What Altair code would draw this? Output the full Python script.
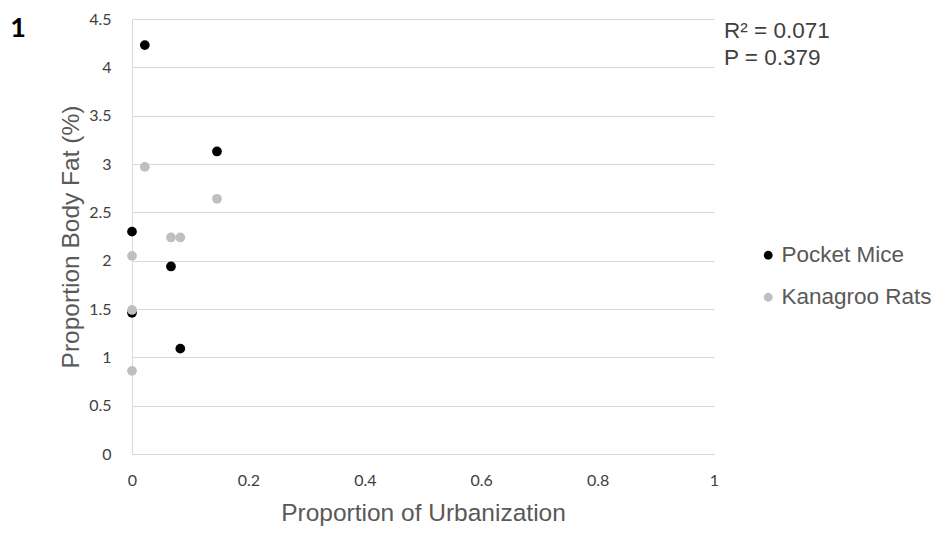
import altair as alt
import pandas as pd

mice_x = [0.022, 0.146, 0.0, 0.067, 0.0, 0.083]
mice_y = [4.23, 3.13, 2.30, 1.94, 1.46, 1.09]
rats_x = [0.022, 0.146, 0.067, 0.083, 0.0, 0.0, 0.0]
rats_y = [2.97, 2.64, 2.24, 2.24, 2.05, 1.49, 0.86]
series = ["Pocket Mice", "Kanagroo Rats"]
colors = ["#000000", "#BFBFBF"]
y_ticks = [0, 0.5, 1, 1.5, 2, 2.5, 3, 3.5, 4, 4.5]
x_ticks = [0, 0.2, 0.4, 0.6, 0.8, 1]
stats_lines = ["R\u00b2 = 0.071", "P = 0.379"]
panel_label = "1"

rows = [{"x": a, "y": b, "s": series[0]} for a, b in zip(mice_x, mice_y)]
rows += [{"x": a, "y": b, "s": series[1]} for a, b in zip(rats_x, rats_y)]
df = pd.DataFrame(rows)

FONT = "Liberation Sans"
TICKFONT = "Lato"

points = alt.Chart(df).mark_circle(size=95, opacity=1).encode(
    x=alt.X("x:Q", scale=alt.Scale(domain=[0, 1], nice=False),
            axis=alt.Axis(values=x_ticks, title="Proportion of Urbanization",
                          grid=False, ticks=False, domainColor="#D9D9D9",
                          labelExpr="'' + datum.value", labelPadding=18,
                          labelFlush=False, labelOverlap=False,
                          labelFontSize=16, labelColor="#404040",
                          titleFontSize=24.5, titleColor="#595959",
                          titleFontWeight="normal", titlePadding=13,
                          labelFont=TICKFONT, titleFont=FONT)),
    y=alt.Y("y:Q", scale=alt.Scale(domain=[0, 4.5], nice=False),
            axis=alt.Axis(values=y_ticks, title="Proportion Body Fat (%)",
                          grid=True, gridColor="#D9D9D9", ticks=False,
                          domainColor="#D9D9D9",
                          labelExpr="'' + datum.value", labelPadding=21,
                          labelFlush=False, labelOverlap=False,
                          labelFontSize=16, labelColor="#404040",
                          titleFontSize=24.5, titleColor="#595959",
                          titleFontWeight="normal", titlePadding=5,
                          labelFont=TICKFONT, titleFont=FONT)),
    color=alt.Color("s:N", scale=alt.Scale(domain=series, range=colors),
                    sort=series,
                    legend=alt.Legend(title=None, orient="none", legendX=625,
                                      legendY=225, symbolSize=78,
                                      symbolType="circle", labelFontSize=22.5,
                                      labelColor="#595959", labelFont=FONT,
                                      rowPadding=19, labelOffset=2,
                                      symbolStrokeWidth=0)),
    order=alt.Order("s:N", sort="descending"),
)

stats1 = alt.Chart(pd.DataFrame({"t": [stats_lines[0]]})).mark_text(
    align="left", baseline="alphabetic", fontSize=22.5, font=FONT, color="#404040"
).encode(x=alt.value(592), y=alt.value(19), text="t:N")

stats2 = alt.Chart(pd.DataFrame({"t": [stats_lines[1]]})).mark_text(
    align="left", baseline="alphabetic", fontSize=22.5, font=FONT, color="#404040"
).encode(x=alt.value(592), y=alt.value(46), text="t:N")

label = alt.Chart(pd.DataFrame({"t": [panel_label]})).mark_text(
    align="center", baseline="middle", fontSize=27, fontWeight="bold",
    font=TICKFONT, color="#000000"
).encode(x=alt.value(-114), y=alt.value(10), text="t:N")

chart = alt.layer(points, stats1, stats2, label).properties(
    width=582, height=435,
    background="white",
    autosize=alt.AutoSizeParams(type="none"),
    padding={"left": 124, "top": 11, "right": 224, "bottom": 80},
).configure_view(stroke="transparent", strokeWidth=0)

chart.save("out.html", embed_options={"renderer": "svg", "actions": False})
